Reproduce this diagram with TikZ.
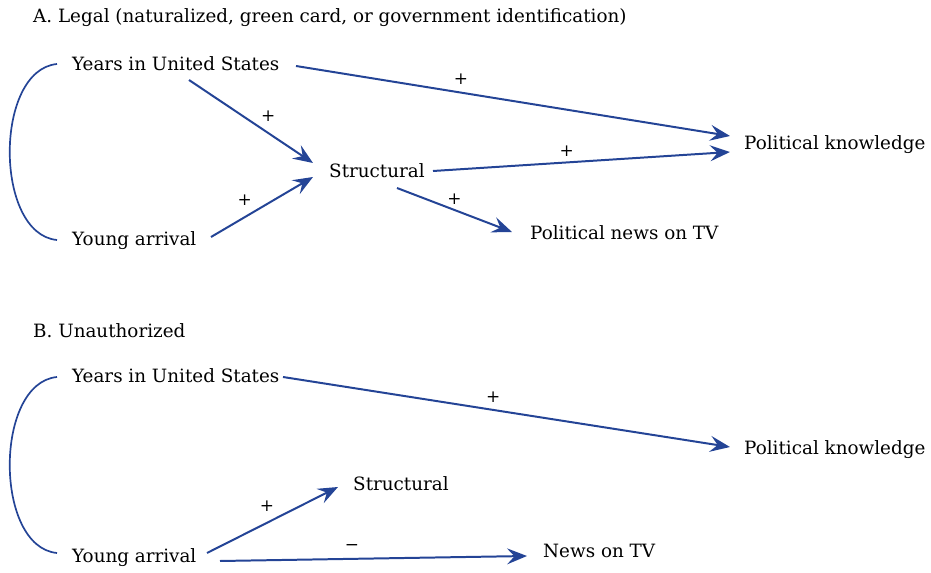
\documentclass[tikz,border=0pt]{standalone}
\usepackage{fontspec}
\setmainfont{DejaVu Serif}
\usetikzlibrary{arrows.meta}
\definecolor{arrblue}{RGB}{36,68,150}
\tikzset{
  lbl/.style={anchor=west, inner sep=0pt, font=\fontsize{18.4}{18.4}\selectfont},
  ttl/.style={anchor=west, inner sep=0pt, font=\fontsize{18.4}{18.4}\selectfont},
  sgn/.style={inner sep=0pt, font=\fontsize{17}{17}\selectfont},
  arr/.style={draw=arrblue, line width=2pt, -{Stealth[length=20pt,width=16pt,inset=7.5pt]}},
  brk/.style={draw=arrblue, line width=1.7pt},
}
\begin{document}
\begin{tikzpicture}[x=1bp,y=-1bp]
\useasboundingbox (0,0) rectangle (931,573);
% Panel A
\node[ttl] (tA) at (33,18) {A. Legal (naturalized, green card, or government identification)};
\node[lbl] (yA) at (72,64) {Years in United States};
\node[lbl] (aA) at (72,241) {Young arrival};
\node[lbl] (sA) at (329,171) {Structural};
\node[lbl] (kA) at (744,145) {Political knowledge};
\node[lbl] (nA) at (530,233) {Political news on TV};
\coordinate (yAe) at (296,66);
\coordinate (yAs) at (189,80);
\coordinate (aAe) at (211,237);
\coordinate (sAin1) at (313,163);
\coordinate (sAin2) at (313,177);
\coordinate (sAo1) at (433,171);
\coordinate (sAo2) at (397,188);
\coordinate (kAin1) at (730,136);
\coordinate (kAin2) at (730,152);
\coordinate (nAin) at (512,232);
\draw[arr] (yAe) -- (kAin1) node[sgn, pos=0.38, above=7pt] {+};
\draw[arr] (yAs) -- (sAin1) node[sgn, pos=0.55, above right=3pt] {+};
\draw[arr] (aAe) -- (sAin2) node[sgn, pos=0.45, above left=4pt] {+};
\draw[arr] (sAo1) -- (kAin2) node[sgn, pos=0.45, above=5pt] {+};
\draw[arr] (sAo2) -- (nAin) node[sgn, pos=0.5, above=5pt] {+};
\coordinate (bA1) at (57,64);
\coordinate (bA2) at (57,240);
\draw[brk] (bA1) .. controls (-6,70) and (-6,234) .. (bA2);
% Panel B
\node[ttl] (tB) at (33,331) {B. Unauthorized};
\node[lbl] (yB) at (72,376) {Years in United States};
\node[lbl] (kB) at (744,450) {Political knowledge};
\node[lbl] (sB) at (353,484) {Structural};
\node[lbl] (aB) at (72,558) {Young arrival};
\node[lbl] (nB) at (543,551) {News on TV};
\coordinate (yBe) at (283,377);
\coordinate (kBin) at (730,447);
\coordinate (aBe1) at (207,553);
\coordinate (aBe2) at (220,561);
\coordinate (sBin) at (338,487);
\coordinate (nBin) at (527,556);
\draw[arr] (yBe) -- (kBin) node[sgn, pos=0.47, above=6pt] {+};
\draw[arr] (aBe1) -- (sBin) node[sgn, pos=0.55, above left=4pt] {+};
\draw[arr] (aBe2) -- (nBin) node[sgn, pos=0.43, above=7pt] {−};
\coordinate (bB1) at (57,377);
\coordinate (bB2) at (57,553);
\draw[brk] (bB1) .. controls (-6,383) and (-6,547) .. (bB2);
\end{tikzpicture}
\end{document}
